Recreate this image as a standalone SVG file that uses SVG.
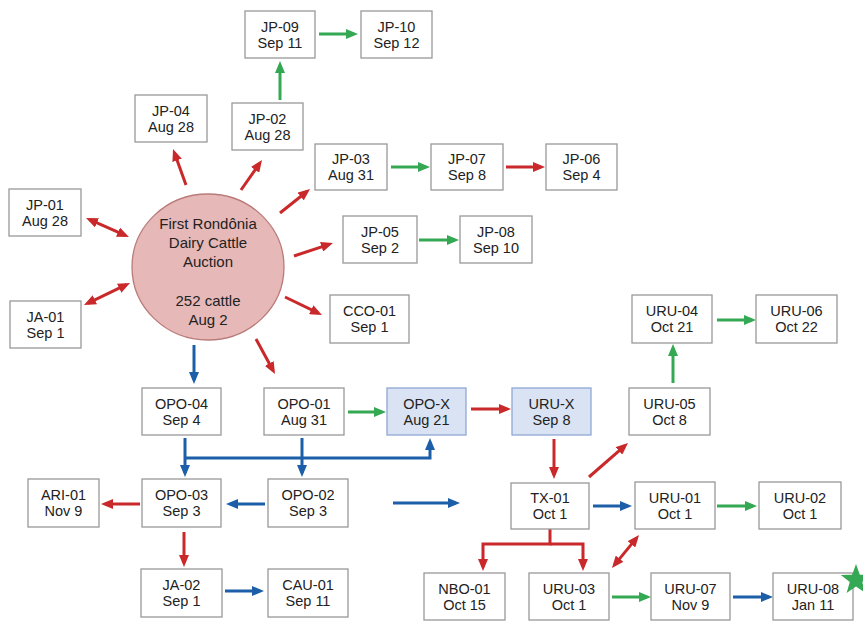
<svg xmlns="http://www.w3.org/2000/svg" width="863" height="621" viewBox="0 0 863 621">
<style>
.box rect{fill:#fff;stroke:#999;stroke-width:1.3}
.hl rect{fill:#dae3f3;stroke:#8fa8d4}
text{font-family:"Liberation Sans",Arial,sans-serif;font-size:14.5px;fill:#222;text-anchor:middle}
.c text{font-size:15px}
.r{stroke:#c9292b;stroke-width:3;fill:none;marker-end:url(#ar)}
.g{stroke:#34a853;stroke-width:3;fill:none;marker-end:url(#ag)}
.b{stroke:#1c5ea8;stroke-width:3;fill:none;marker-end:url(#ab)}
.rr{marker-start:url(#ar)}
</style>
<defs>
<marker id="ar" markerUnits="userSpaceOnUse" markerWidth="12" markerHeight="10" viewBox="0 0 12 10" refX="8" refY="5" orient="auto-start-reverse"><path d="M0,0 L12,5 L0,10 z" fill="#c9292b"/></marker>
<marker id="ag" markerUnits="userSpaceOnUse" markerWidth="12" markerHeight="10" viewBox="0 0 12 10" refX="8" refY="5" orient="auto-start-reverse"><path d="M0,0 L12,5 L0,10 z" fill="#34a853"/></marker>
<marker id="ab" markerUnits="userSpaceOnUse" markerWidth="12" markerHeight="10" viewBox="0 0 12 10" refX="8" refY="5" orient="auto-start-reverse"><path d="M0,0 L12,5 L0,10 z" fill="#1c5ea8"/></marker>
</defs>

<g id="connectors">
<path class="g" d="M319,34 H354"/>
<path class="g" d="M280,100 V65"/>
<path class="g" d="M391,167 H426"/>
<path class="g" d="M419,240 H455"/>
<path class="g" d="M348,412 H382"/>
<path class="g" d="M673,383 V348"/>
<path class="g" d="M717,320 H752"/>
<path class="g" d="M717,506 H753"/>
<path class="g" d="M612,597 H647"/>
<path class="r" d="M506,167 H541"/>
<path class="r" d="M186,185 L174.4,152.8"/>
<path class="r" d="M241,190 L259.7,163.3"/>
<path class="r" d="M280,213 L306.9,191.5"/>
<path class="r" d="M294,256 L329.2,244.3"/>
<path class="r" d="M285,297 L318.4,313.2"/>
<path class="r" d="M256,339 L273.1,370.5"/>
<path class="r rr" d="M89.7,219.6 L125.3,235.4"/>
<path class="r rr" d="M87.6,303.3 L126.4,284.7"/>
<path class="r" d="M471,409 H507"/>
<path class="r" d="M554,439 V475"/>
<path class="r" d="M589,477 L625,445.6"/>
<path class="r" d="M140,504 H105"/>
<path class="r" d="M184,532 V563"/>
<path class="r" d="M550,529 V544 H483 V567"/>
<path class="r" d="M550,544 H583 V567"/>
<path class="r rr" d="M614.5,564.9 L636.5,538.1"/>
<path class="b" d="M194,345 V380"/>
<path class="b" d="M185,438 V473"/>
<path class="b" d="M185,458 H430 V442"/>
<path class="b" d="M302,438 V473"/>
<path class="b" d="M265,504 H230"/>
<path class="b" d="M393,503 H456"/>
<path class="b" d="M225,591 H260"/>
<path class="b" d="M593,506 H628"/>
<path class="b" d="M733,597 H769"/>
</g>

<g id="auction" class="c">
<ellipse cx="208" cy="267" rx="76" ry="73" fill="#e6b8b7" stroke="#b97a78" stroke-width="1.3"/>
<text x="208" y="229">First Rondônia</text>
<text x="208" y="248">Dairy Cattle</text>
<text x="208" y="267">Auction</text>
<text x="208" y="306">252 cattle</text>
<text x="208" y="325">Aug 2</text>
</g>

<g id="JP-09" class="box"><rect x="245" y="11" width="70" height="47"/><text x="280" y="32">JP-09</text><text x="280" y="48">Sep 11</text></g>
<g id="JP-10" class="box"><rect x="361" y="11" width="71" height="47"/><text x="396.5" y="32">JP-10</text><text x="396.5" y="48">Sep 12</text></g>
<g id="JP-04" class="box"><rect x="135" y="95" width="72" height="47"/><text x="171" y="116">JP-04</text><text x="171" y="132">Aug 28</text></g>
<g id="JP-02" class="box"><rect x="232" y="103" width="71" height="47"/><text x="267.5" y="124">JP-02</text><text x="267.5" y="140">Aug 28</text></g>
<g id="JP-03" class="box"><rect x="315" y="144" width="72" height="46"/><text x="351" y="164">JP-03</text><text x="351" y="180">Aug 31</text></g>
<g id="JP-07" class="box"><rect x="431" y="144" width="72" height="46"/><text x="467" y="164">JP-07</text><text x="467" y="180">Sep 8</text></g>
<g id="JP-06" class="box"><rect x="546" y="144" width="71" height="46"/><text x="581.5" y="164">JP-06</text><text x="581.5" y="180">Sep 4</text></g>
<g id="JP-05" class="box"><rect x="343" y="216" width="74" height="47"/><text x="380" y="237">JP-05</text><text x="380" y="253">Sep 2</text></g>
<g id="JP-08" class="box"><rect x="460" y="216" width="72" height="47"/><text x="496" y="237">JP-08</text><text x="496" y="253">Sep 10</text></g>
<g id="CCO-01" class="box"><rect x="330" y="295" width="79" height="48"/><text x="369.5" y="316">CCO-01</text><text x="369.5" y="332">Sep 1</text></g>
<g id="JP-01" class="box"><rect x="9" y="189" width="72" height="47"/><text x="45" y="210">JP-01</text><text x="45" y="226">Aug 28</text></g>
<g id="JA-01" class="box"><rect x="10" y="301" width="71" height="47"/><text x="45.5" y="322">JA-01</text><text x="45.5" y="338">Sep 1</text></g>
<g id="OPO-04" class="box"><rect x="142" y="388" width="79" height="47"/><text x="181.5" y="409">OPO-04</text><text x="181.5" y="425">Sep 4</text></g>
<g id="OPO-01" class="box"><rect x="264" y="388" width="80" height="47"/><text x="304" y="409">OPO-01</text><text x="304" y="425">Aug 31</text></g>
<g id="OPO-X" class="box hl"><rect x="387" y="388" width="79" height="47"/><text x="426.5" y="409">OPO-X</text><text x="426.5" y="425">Aug 21</text></g>
<g id="URU-X" class="box hl"><rect x="512" y="388" width="79" height="47"/><text x="551.5" y="409">URU-X</text><text x="551.5" y="425">Sep 8</text></g>
<g id="URU-05" class="box"><rect x="629" y="388" width="81" height="47"/><text x="669.5" y="409">URU-05</text><text x="669.5" y="425">Oct 8</text></g>
<g id="URU-04" class="box"><rect x="632" y="295" width="80" height="48"/><text x="672" y="316">URU-04</text><text x="672" y="332">Oct 21</text></g>
<g id="URU-06" class="box"><rect x="756" y="295" width="81" height="48"/><text x="796.5" y="316">URU-06</text><text x="796.5" y="332">Oct 22</text></g>
<g id="ARI-01" class="box"><rect x="28" y="479" width="71" height="48"/><text x="63.5" y="500">ARI-01</text><text x="63.5" y="516">Nov 9</text></g>
<g id="OPO-03" class="box"><rect x="142" y="479" width="79" height="48"/><text x="181.5" y="500">OPO-03</text><text x="181.5" y="516">Sep 3</text></g>
<g id="OPO-02" class="box"><rect x="268" y="479" width="80" height="48"/><text x="308" y="500">OPO-02</text><text x="308" y="516">Sep 3</text></g>
<g id="TX-01" class="box"><rect x="511" y="483" width="78" height="46"/><text x="550" y="503">TX-01</text><text x="550" y="519">Oct 1</text></g>
<g id="URU-01" class="box"><rect x="635" y="482" width="80" height="47"/><text x="675" y="503">URU-01</text><text x="675" y="519">Oct 1</text></g>
<g id="URU-02" class="box"><rect x="759" y="482" width="82" height="47"/><text x="800" y="503">URU-02</text><text x="800" y="519">Oct 1</text></g>
<g id="JA-02" class="box"><rect x="141" y="569" width="81" height="48"/><text x="181.5" y="590">JA-02</text><text x="181.5" y="606">Sep 1</text></g>
<g id="CAU-01" class="box"><rect x="268" y="569" width="80" height="48"/><text x="308" y="590">CAU-01</text><text x="308" y="606">Sep 11</text></g>
<g id="NBO-01" class="box"><rect x="424" y="573" width="81" height="47"/><text x="464.5" y="594">NBO-01</text><text x="464.5" y="610">Oct 15</text></g>
<g id="URU-03" class="box"><rect x="529" y="573" width="80" height="47"/><text x="569" y="594">URU-03</text><text x="569" y="610">Oct 1</text></g>
<g id="URU-07" class="box"><rect x="651" y="573" width="79" height="47"/><text x="690.5" y="594">URU-07</text><text x="690.5" y="610">Nov 9</text></g>
<g id="URU-08" class="box"><rect x="773" y="573" width="80" height="47"/><text x="813" y="594">URU-08</text><text x="813" y="610">Jan 11</text></g>
<g id="star"><path d="M856,564 L859.8,574.7 L871.2,575.1 L862.2,582 L865.4,592.9 L856,586.5 L846.6,592.9 L849.8,582 L840.8,575.1 L852.2,574.7 Z" fill="#34a853"/></g>
</svg>
